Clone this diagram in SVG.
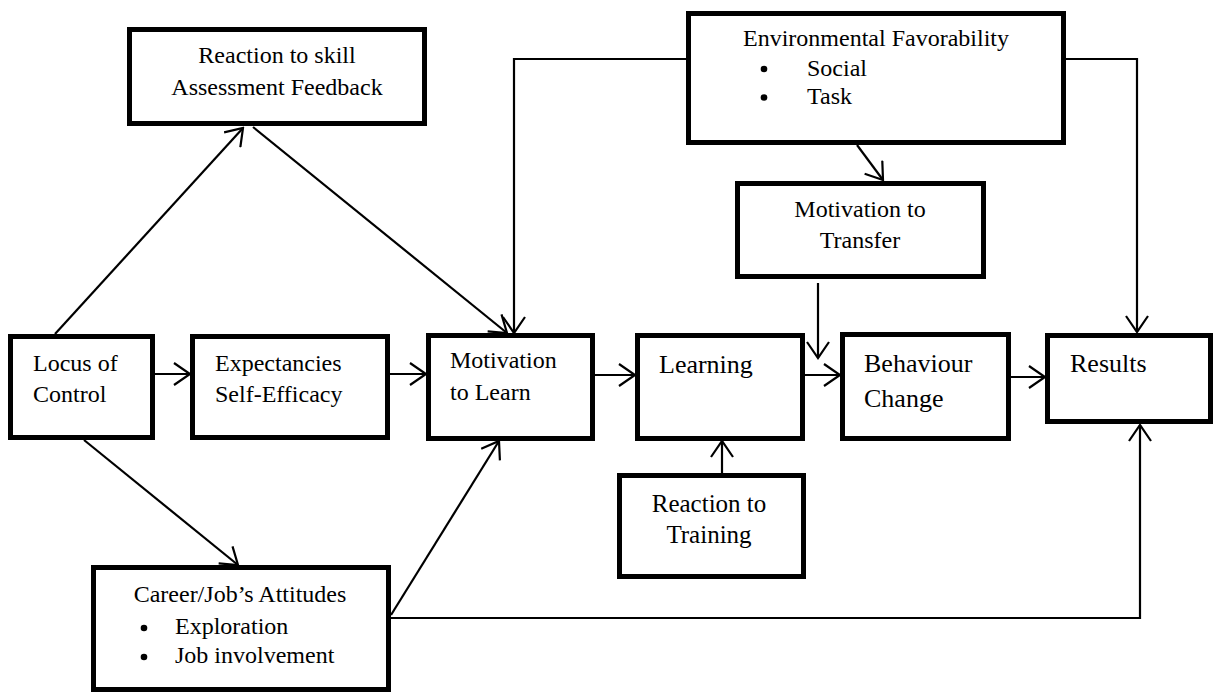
<svg xmlns="http://www.w3.org/2000/svg" width="1214" height="694" viewBox="0 0 1214 694">
<style>
.box{fill:#fff;stroke:#000;stroke-width:5}
.t{font-family:"Liberation Serif","Times New Roman",serif;font-size:24px;fill:#000}
.tl{font-family:"Liberation Serif","Times New Roman",serif;font-size:26px;fill:#000}
.c{stroke:#000;stroke-width:2.2;fill:none}
</style>
<defs>
<marker id="ah" viewBox="0 0 20 24" refX="18" refY="12" markerWidth="20" markerHeight="24" markerUnits="userSpaceOnUse" orient="auto">
<path d="M2,1 L18,12 L2,23" fill="none" stroke="#000" stroke-width="2.2"/>
</marker>
</defs>
<rect width="1214" height="694" fill="#fff"/>
<g id="connectors">
<line class="c" x1="55" y1="334" x2="243" y2="128" marker-end="url(#ah)"/>
<line class="c" x1="253" y1="127" x2="507" y2="333" marker-end="url(#ah)"/>
<polyline class="c" points="686,59 514,59 514,333" marker-end="url(#ah)"/>
<polyline class="c" points="1066,59 1137,59 1137,332" marker-end="url(#ah)"/>
<line class="c" x1="857" y1="145" x2="883" y2="180" marker-end="url(#ah)"/>
<line class="c" x1="818" y1="283" x2="818" y2="358" marker-end="url(#ah)"/>
<line class="c" x1="155" y1="374" x2="190" y2="374" marker-end="url(#ah)"/>
<line class="c" x1="390" y1="374" x2="426" y2="374" marker-end="url(#ah)"/>
<line class="c" x1="595" y1="375" x2="635" y2="375" marker-end="url(#ah)"/>
<line class="c" x1="805" y1="375" x2="840" y2="375" marker-end="url(#ah)"/>
<line class="c" x1="1011" y1="377" x2="1045" y2="377" marker-end="url(#ah)"/>
<line class="c" x1="722" y1="473" x2="722" y2="441" marker-end="url(#ah)"/>
<line class="c" x1="84" y1="440" x2="238" y2="565" marker-end="url(#ah)"/>
<line class="c" x1="391" y1="615" x2="499" y2="441" marker-end="url(#ah)"/>
<polyline class="c" points="390,618 1140,618 1140,425" marker-end="url(#ah)"/>
</g>
<g id="reaction-skill">
<rect class="box" x="129.5" y="29.5" width="295" height="94"/>
<text class="t" x="277" y="63" text-anchor="middle">Reaction to skill</text>
<text class="t" x="277" y="95" text-anchor="middle">Assessment Feedback</text>
</g>
<g id="environmental">
<rect class="box" x="688.5" y="13.5" width="375" height="129"/>
<text class="t" x="876" y="46" text-anchor="middle">Environmental Favorability</text>
<circle cx="764" cy="69" r="3.3"/>
<circle cx="764" cy="97.5" r="3.3"/>
<text class="t" x="807" y="76">Social</text>
<text class="t" x="807" y="104">Task</text>
</g>
<g id="motivation-transfer">
<rect class="box" x="737.5" y="183.5" width="246" height="93"/>
<text class="t" x="860" y="217" text-anchor="middle">Motivation to</text>
<text class="t" x="860" y="248" text-anchor="middle">Transfer</text>
</g>
<g id="locus">
<rect class="box" x="10.5" y="336.5" width="142" height="101"/>
<text class="t" x="33" y="371">Locus of</text>
<text class="t" x="33" y="402">Control</text>
</g>
<g id="expectancies">
<rect class="box" x="192.5" y="336.5" width="195" height="101"/>
<text class="t" x="215" y="371">Expectancies</text>
<text class="t" x="215" y="402">Self-Efficacy</text>
</g>
<g id="motivation-learn">
<rect class="box" x="428.5" y="335.5" width="164" height="103"/>
<text class="t" x="450" y="368">Motivation</text>
<text class="t" x="450" y="400">to Learn</text>
</g>
<g id="learning">
<rect class="box" x="637.5" y="335.5" width="165" height="103"/>
<text class="tl" x="659" y="373">Learning</text>
</g>
<g id="behaviour">
<rect class="box" x="842.5" y="334.5" width="166" height="104"/>
<text class="tl" x="864" y="372">Behaviour</text>
<text class="tl" x="864" y="407">Change</text>
</g>
<g id="results">
<rect class="box" x="1047.5" y="335.5" width="163" height="86"/>
<text class="tl" x="1070" y="372">Results</text>
</g>
<g id="reaction-training">
<rect class="box" x="619.5" y="475.5" width="184" height="101"/>
<text class="t" x="709" y="512" text-anchor="middle" style="font-size:25px">Reaction to</text>
<text class="t" x="709" y="543" text-anchor="middle" style="font-size:25px">Training</text>
</g>
<g id="career">
<rect class="box" x="93.5" y="567.5" width="295" height="122"/>
<text class="t" x="240" y="602" text-anchor="middle">Career/Job’s Attitudes</text>
<circle cx="144" cy="628" r="3.3"/>
<circle cx="144" cy="657" r="3.3"/>
<text class="t" x="175" y="634">Exploration</text>
<text class="t" x="175" y="663">Job involvement</text>
</g>
</svg>
